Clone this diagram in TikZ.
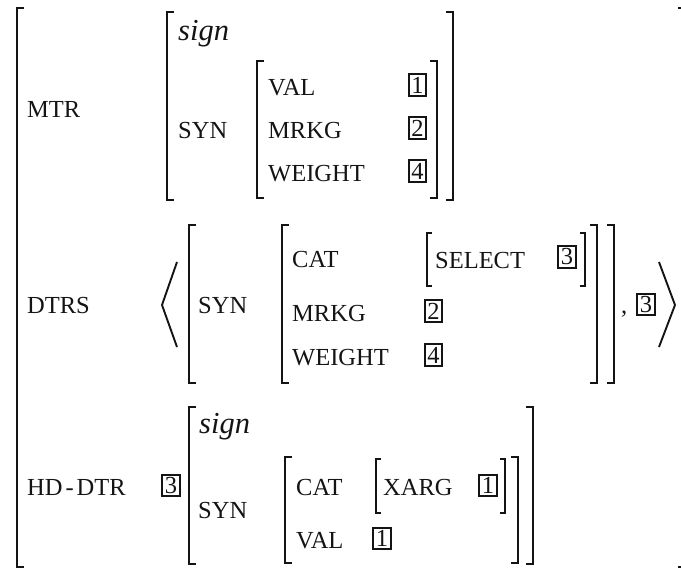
\documentclass[tikz,border=0pt]{standalone}
\usepackage{fontspec}
\setmainfont{Liberation Serif}
\definecolor{ink}{HTML}{141414}
\newcommand{\avmL}[4][brk]{\draw[#1] ({#2+7},#3) -- (#2,#3) -- (#2,#4) -- ({#2+7},#4);}
\newcommand{\avmR}[4][brk]{\draw[#1] ({#2-7},#3) -- (#2,#3) -- (#2,#4) -- ({#2-7},#4);}
\newcommand{\avmSL}[3]{\draw[sbrk] ({#1+5},#2) -- (#1,#2) -- (#1,#3) -- ({#1+5},#3);}
\newcommand{\avmSR}[3]{\draw[sbrk] ({#1-5},#2) -- (#1,#2) -- (#1,#3) -- ({#1-5},#3);}
\tikzset{
  lbl/.style={anchor=base west, inner sep=0pt, font=\fontsize{24.5}{28}\selectfont, text=ink},
  typ/.style={anchor=base west, inner sep=0pt, font=\fontsize{30.5}{34}\selectfont\itshape, text=ink},
  tagbox/.style={draw=ink, line width=2.4pt, inner sep=0pt, minimum width=17.5pt, minimum height=21.5pt,
     font=\fontsize{24.5}{28}\selectfont, text=ink},
  brk/.style={draw=ink, line width=2.8pt, line join=miter},
  sbrk/.style={draw=ink, line width=1.4pt, line join=miter},
  angl/.style={draw=ink, line width=1.9pt, line join=miter},
}
\begin{document}
\begin{tikzpicture}[x=1pt, y=-1pt]
\useasboundingbox (0,0) rectangle (681,570);
% outer matrix
\avmL{17}{8}{567}
\draw[brk] (678,8) -- (684,8);
\draw[brk] (678,567) -- (684,567);

% ---------- MTR ----------
\node[lbl] (mtr) at (27,117) {MTR};
\avmL{167}{12}{200}
\avmR{453}{12}{200}
\node[typ] (sign1) at (178,41) {sign};
\node[lbl] (syn1) at (178,138) {SYN};
\avmL{257}{61}{198}
\avmR{437}{61}{198}
\node[lbl] (val1) at (268,95) {VAL};
\node[lbl] (mrkg1) at (268,138) {MRKG};
\node[lbl] (wt1) at (268,181) {WEIGHT};
\node[tagbox] (t1a) at (417.5,85) {1};
\node[tagbox] (t2a) at (417.5,128) {2};
\node[tagbox] (t4a) at (417.5,171) {4};

% ---------- DTRS ----------
\node[lbl] (dtrs) at (27,313) {DTRS};
\draw[angl] (177,262) -- (162,305) -- (177,347);
\avmL{189}{225}{383}
\node[lbl] (syn2) at (198,313) {SYN};
\avmL{282}{225}{383}
\node[lbl] (cat2) at (292,267) {CAT};
\node[lbl] (mrkg2) at (292,321) {MRKG};
\node[lbl] (wt2) at (292,365) {WEIGHT};
\avmSL{427}{233}{286}
\node[lbl] (sel) at (435,268) {SELECT};
\node[tagbox] (t3a) at (567,257) {3};
\avmSR{585}{233}{286}
\node[tagbox] (t2b) at (433.5,311) {2};
\node[tagbox] (t4b) at (433.5,355) {4};
\avmR{597}{225}{383}
\avmR{614}{225}{383}
\node[lbl] (comma) at (621,313) {,};
\node[tagbox] (t3b) at (646,304.5) {3};
\draw[angl] (659,262) -- (675,305) -- (659,347);

% ---------- HD-DTR ----------
\node[lbl] (hd) at (27,495) {HD\kern3pt-\kern3pt DTR};
\node[tagbox] (t3c) at (171,485.5) {3};
\avmL{189}{407}{564}
\avmR{533}{407}{564}
\node[typ] (sign2) at (199,433) {sign};
\node[lbl] (syn3) at (198,518) {SYN};
\avmL{285}{457}{563}
\avmR{518}{457}{563}
\node[lbl] (cat3) at (296,495) {CAT};
\node[lbl] (val3) at (296,548) {VAL};
\avmSL{376}{459}{513}
\node[lbl] (xarg) at (383,495) {XARG};
\node[tagbox] (t1b) at (488,485.5) {1};
\avmSR{505}{459}{513}
\node[tagbox] (t1c) at (382,538.5) {1};
\end{tikzpicture}
\end{document}
